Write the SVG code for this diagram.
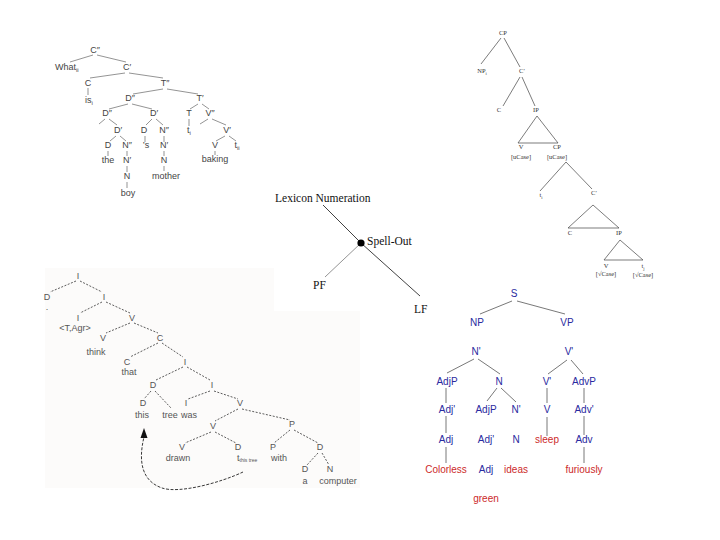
<svg xmlns="http://www.w3.org/2000/svg" width="720" height="540" viewBox="0 0 720 540">
<defs>
<style>
.tl{font-family:"Liberation Sans",Arial,sans-serif;font-size:9px;fill:#444;text-anchor:middle}
.tr{font-family:"Liberation Serif","Times New Roman",serif;font-size:6.5px;fill:#333;text-anchor:middle}
.md{font-family:"Liberation Serif","Times New Roman",serif;font-size:11.5px;fill:#111}
.bl{font-family:"Liberation Sans",Arial,sans-serif;font-size:9px;fill:#555555;text-anchor:middle}
.br{font-family:"Liberation Sans",Arial,sans-serif;font-size:10px;text-anchor:middle}
.blue{fill:#2a2aa0}
.red{fill:#cc2a2a}
.l1{stroke:#666;stroke-width:0.7;fill:none}
.l2{stroke:#444;stroke-width:0.7;fill:none}
.l3{stroke:#111;stroke-width:0.8;fill:none}
.l4{stroke:#333;stroke-width:0.8;fill:none;stroke-dasharray:2 1.5}
.l5{stroke:#555;stroke-width:0.8;fill:none}
</style>
</defs>
<rect width="720" height="540" fill="#fff"/>
<path d="M45,268 H274 V311 H360 V488 H45 Z" fill="#fcfbfa"/>

<!-- Top-left tree -->
<g id="tree-topleft">
<g id="connectors-tl" class="l1">
<path d="M93,55 L70,62 M97,55 L126,62 M125,73 L90,78 M129,73 L163,78 M88,88 L88,95 M163,89 L133,94 M167,89 L198,94 M128,104 L109,109 M132,104 L152,109 M198,104 L190,109 M202,104 L209,109 M105,119 L99,124 M109,119 L117,125 M152,119 L146,125 M156,119 L163,125 M189,119 L189,126 M208,119 L200,124 M212,119 L226,125 M116,136 L110,141 M120,136 L126,141 M145,136 L145,142 M164,136 L164,142 M225,136 L216,141 M229,136 L236,141 M108,151 L108,156 M127,151 L127,156 M164,151 L164,156 M215,151 L215,155 M127,166 L127,172 M164,166 L164,171 M127,182 L127,188"/>
</g>
<g id="tl-c2"><text class="tl" x="95" y="53">C″</text></g>
<g id="tl-what"><text class="tl" x="55" y="70" style="text-anchor:start">What<tspan font-size="6" dy="2">ii</tspan></text></g>
<g id="tl-c1"><text class="tl" x="127" y="70">C′</text></g>
<g id="tl-c"><text class="tl" x="88" y="86">C</text></g>
<g id="tl-is"><text class="tl" x="85" y="103" style="text-anchor:start">is<tspan font-size="6" dy="2">i</tspan></text></g>
<g id="tl-t2"><text class="tl" x="165" y="86">T″</text></g>
<g id="tl-d2a"><text class="tl" x="130" y="101">D″</text></g>
<g id="tl-t1"><text class="tl" x="200" y="101">T′</text></g>
<g id="tl-d2b"><text class="tl" x="107" y="116">D″</text></g>
<g id="tl-d1a"><text class="tl" x="154" y="116">D′</text></g>
<g id="tl-t"><text class="tl" x="189" y="116">T</text></g>
<g id="tl-v2"><text class="tl" x="210" y="116">V″</text></g>
<g id="tl-d1b"><text class="tl" x="118" y="133">D′</text></g>
<g id="tl-da"><text class="tl" x="144" y="133">D</text></g>
<g id="tl-n2a"><text class="tl" x="164" y="133">N″</text></g>
<g id="tl-ti1"><text class="tl" x="189" y="133">t<tspan font-size="6" dy="2">i</tspan></text></g>
<g id="tl-v1"><text class="tl" x="227" y="133">V′</text></g>
<g id="tl-db"><text class="tl" x="108" y="148">D</text></g>
<g id="tl-n2b"><text class="tl" x="127" y="148">N″</text></g>
<g id="tl-s"><text class="tl" x="146" y="148">’s</text></g>
<g id="tl-n1a"><text class="tl" x="164" y="148">N′</text></g>
<g id="tl-v"><text class="tl" x="215" y="148">V</text></g>
<g id="tl-ti2"><text class="tl" x="237" y="148">t<tspan font-size="6" dy="2">ii</tspan></text></g>
<g id="tl-the"><text class="tl" x="108" y="163">the</text></g>
<g id="tl-n1b"><text class="tl" x="127" y="163">N′</text></g>
<g id="tl-na"><text class="tl" x="164" y="163">N</text></g>
<g id="tl-baking"><text class="tl" x="215" y="162">baking</text></g>
<g id="tl-nb"><text class="tl" x="127" y="179">N</text></g>
<g id="tl-mother"><text class="tl" x="166" y="179">mother</text></g>
<g id="tl-boy"><text class="tl" x="128" y="196">boy</text></g>
</g>

<!-- Top-right tree -->
<g id="tree-topright">
<g id="connectors-tr" class="l2">
<path d="M501,38 L481,64 M504,38 L520,67 M520,77 L503,106 M522,77 L535,106"/>
<path d="M537,116 L518,143 L558,143 Z"/>
<path d="M566,162 L540,191 M566,162 L592,189"/>
<path d="M593,205 L568,228 L619,228 Z"/>
<path d="M620,240 L604,260 L643,260 Z"/>
</g>
<g id="tr-cp"><text class="tr" x="503" y="35">CP</text></g>
<g id="tr-np"><text class="tr" x="482" y="73">NP<tspan font-size="4.5" dy="1.5">i</tspan></text></g>
<g id="tr-c1"><text class="tr" x="522" y="73">C′</text></g>
<g id="tr-c"><text class="tr" x="499" y="112">C</text></g>
<g id="tr-ip"><text class="tr" x="536" y="112">IP</text></g>
<g id="tr-v"><text class="tr" x="521" y="149">V</text><text class="tr" x="521" y="159">[uCase]</text></g>
<g id="tr-cp2"><text class="tr" x="557" y="149">CP</text><text class="tr" x="557" y="159">[uCase]</text></g>
<g id="tr-ti"><text class="tr" x="541" y="197">t<tspan font-size="4.5" dy="1.5">i</tspan></text></g>
<g id="tr-c1b"><text class="tr" x="594" y="195">C′</text></g>
<g id="tr-cb"><text class="tr" x="570" y="235">C</text></g>
<g id="tr-ipb"><text class="tr" x="619" y="235">IP</text></g>
<g id="tr-vb"><text class="tr" x="606" y="268">V</text><text class="tr" x="606" y="276">[√Case]</text></g>
<g id="tr-tj"><text class="tr" x="643" y="268">t<tspan font-size="4.5" dy="1.5">j</tspan></text><text class="tr" x="643" y="277">[√Case]</text></g>
</g>

<!-- Middle model -->
<g id="model">
<g id="connectors-md">
<path class="l3" d="M323,205 L361,243 L420,296"/>
<path d="M361,243 L325,277" stroke="#888" stroke-width="0.9"/>
</g>
<g id="md-lex"><text class="md" x="275" y="202">Lexicon Numeration</text></g>
<g id="md-spell"><circle cx="361" cy="243" r="3.6" fill="#000"/><text class="md" x="367" y="245">Spell-Out</text></g>
<g id="md-pf"><text class="md" x="313" y="289">PF</text></g>
<g id="md-lf"><text class="md" x="414" y="313">LF</text></g>
</g>

<!-- Bottom-left tree -->
<g id="tree-bottomleft">
<g id="connectors-bl">
<path class="l4" d="M76,281 L50,292 M80,281 L102,292 M102,302 L80,313 M106,302 L130,313 M130,323 L106,333 M134,323 L158,333 M158,343 L130,357 M162,343 L183,357 M183,367 L156,380 M187,367 L210,380 M151,391 L144,399 M155,391 L171,408 M210,391 L188,399 M214,391 L238,399 M238,409 L215,421 M242,409 L290,420 M211,432 L185,443 M215,432 L236,443 M290,430 L274,443 M294,430 L318,443 M318,453 L307,465 M322,453 L329,465"/>
<path d="M243,472 C222,482 180,494 162,488 C142,481 138,462 144,437" stroke="#222" stroke-width="0.9" fill="none" stroke-dasharray="3 1.5"/>
<path d="M144,428 L140.5,438 L147.5,438 Z" fill="#111"/>
</g>
<g id="bl-i1"><text class="bl" x="78" y="279">I</text></g>
<g id="bl-d1"><text class="bl" x="47" y="300">D</text><text class="bl" x="47" y="310">.</text></g>
<g id="bl-i2"><text class="bl" x="104" y="300">I</text></g>
<g id="bl-i3"><text class="bl" x="78" y="321">I</text><text class="bl" x="75" y="331">&lt;T,Agr&gt;</text></g>
<g id="bl-v1"><text class="bl" x="132" y="321">V</text></g>
<g id="bl-v2"><text class="bl" x="103" y="341">V</text><text class="bl" x="96" y="355">think</text></g>
<g id="bl-c1"><text class="bl" x="160" y="341">C</text></g>
<g id="bl-c2"><text class="bl" x="127" y="365">C</text><text class="bl" x="129" y="375">that</text></g>
<g id="bl-i4"><text class="bl" x="185" y="365">I</text></g>
<g id="bl-d2"><text class="bl" x="153" y="388">D</text></g>
<g id="bl-i5"><text class="bl" x="212" y="388">I</text></g>
<g id="bl-d3"><text class="bl" x="143" y="406">D</text><text class="bl" x="142" y="418">this</text></g>
<g id="bl-tree"><text class="bl" x="170" y="418">tree</text></g>
<g id="bl-i6"><text class="bl" x="186" y="406">I</text><text class="bl" x="189" y="418">was</text></g>
<g id="bl-v3"><text class="bl" x="240" y="406">V</text></g>
<g id="bl-v4"><text class="bl" x="213" y="429">V</text></g>
<g id="bl-p1"><text class="bl" x="292" y="427">P</text></g>
<g id="bl-v5"><text class="bl" x="182" y="450">V</text><text class="bl" x="178" y="461">drawn</text></g>
<g id="bl-d4"><text class="bl" x="238" y="450">D</text><text class="bl" x="237" y="461" style="text-anchor:start">t<tspan font-size="5" dy="1">this tree</tspan></text></g>
<g id="bl-p2"><text class="bl" x="273" y="450">P</text><text class="bl" x="279" y="461">with</text></g>
<g id="bl-d5"><text class="bl" x="320" y="450">D</text></g>
<g id="bl-d6"><text class="bl" x="305" y="472">D</text><text class="bl" x="305" y="484">a</text></g>
<g id="bl-n"><text class="bl" x="330" y="472">N</text><text class="bl" x="338" y="484">computer</text></g>
</g>

<!-- Bottom-right tree -->
<g id="tree-bottomright">
<g id="connectors-br" class="l5">
<path d="M512,301 L480,314 M517,301 L565,314 M474,359 L447,373 M478,359 L500,374 M567,360 L548,374 M571,360 L583,374 M446,388 L446,403 M497,388 L487,401 M501,388 L516,402 M547,388 L547,403 M584,388 L584,403 M446,416 L446,433 M547,417 L547,436 M584,416 L584,435 M446,447 L446,463 M584,447 L584,463"/>
</g>
<g id="br-s"><text class="br blue" x="514" y="297">S</text></g>
<g id="br-np"><text class="br blue" x="477" y="326">NP</text></g>
<g id="br-vp"><text class="br blue" x="567" y="326">VP</text></g>
<g id="br-n1"><text class="br blue" x="476" y="355">N'</text></g>
<g id="br-v1"><text class="br blue" x="569" y="355">V'</text></g>
<g id="br-adjp1"><text class="br blue" x="447" y="385">AdjP</text></g>
<g id="br-n"><text class="br blue" x="499" y="385">N</text></g>
<g id="br-v1b"><text class="br blue" x="547" y="385">V'</text></g>
<g id="br-advp"><text class="br blue" x="584" y="385">AdvP</text></g>
<g id="br-adj1a"><text class="br blue" x="447" y="413">Adj'</text></g>
<g id="br-adjp2"><text class="br blue" x="486" y="413">AdjP</text></g>
<g id="br-n1b"><text class="br blue" x="516" y="413">N'</text></g>
<g id="br-v"><text class="br blue" x="547" y="413">V</text></g>
<g id="br-adv1"><text class="br blue" x="584" y="413">Adv'</text></g>
<g id="br-adj"><text class="br blue" x="446" y="443">Adj</text></g>
<g id="br-adj1b"><text class="br blue" x="486" y="443">Adj'</text></g>
<g id="br-nb"><text class="br blue" x="516" y="443">N</text></g>
<g id="br-sleep"><text class="br red" x="547" y="443">sleep</text></g>
<g id="br-adv"><text class="br blue" x="584" y="443">Adv</text></g>
<g id="br-colorless"><text class="br red" x="446" y="473">Colorless</text></g>
<g id="br-adjb"><text class="br blue" x="486" y="473">Adj</text></g>
<g id="br-ideas"><text class="br red" x="516" y="473">ideas</text></g>
<g id="br-furiously"><text class="br red" x="584" y="473">furiously</text></g>
<g id="br-green"><text class="br red" x="486" y="502">green</text></g>
</g>
</svg>
